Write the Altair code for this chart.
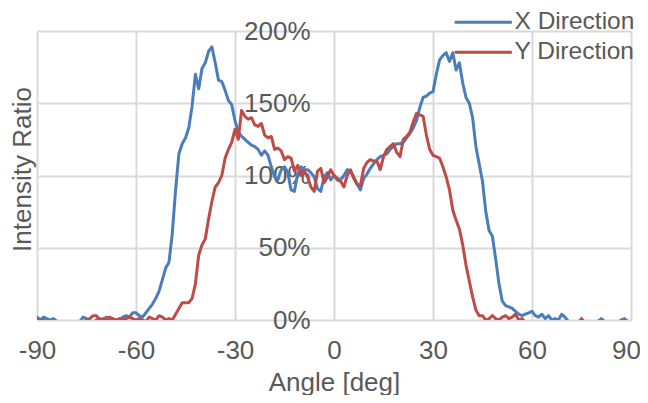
import altair as alt
import pandas as pd

angles = list(range(-90, 91))

x_direction = [
    2, 0, 2, 1, 0, 1, -1, -2, -2, -2,        # -90..-81
    -2, -2, -2, -1, 2, 1, -1, -2, 0, 1,      # -80..-71
    0, 2, 1, 0, 0, 0, 2, 3, 2, 5,            # -70..-61
    5, 3, 2, 5, 8, 11, 15, 20, 28, 36,       # -60..-51
    40, 60, 90, 115, 122, 126, 133, 148, 170, 160,  # -50..-41
    174, 178, 186, 189, 178, 166, 165, 159, 152, 149,  # -40..-31
    138, 130, 127, 125, 123, 121, 120, 118, 114, 117,  # -30..-21
    114, 106, 99, 97, 104, 106, 102, 90, 89, 101,      # -20..-11
    106, 104, 104, 102, 99, 91, 89, 99, 102, 97,       # -10..-1
    100,                                                # 0
    98, 97, 100, 104, 103, 99, 94, 90, 98, 101,        # 1..10
    105, 108, 111, 113, 114, 115, 118, 120, 122, 122,  # 11..20
    123, 126, 129, 133, 138, 147, 154, 155, 157, 158,  # 21..30
    170, 180, 183, 185, 179, 185, 173, 178, 164, 154,  # 31..40
    150, 140, 120, 108, 96, 75, 62, 58, 42, 25,        # 41..50
    13, 10, 9, 8, 6, 4, 3, 4, 5, 6,                    # 51..60
    3, 2, 4, 1, 3, 0, 1, 0, 4, 2,                      # 61..70
    -1, -2, -2, -2, -2, -2, -2, -2, -2, -1,            # 71..80
    1, -1, -2, -2, -2, -2, 0, 1, -1, -2,               # 81..90
]

y_direction = [
    1, -1, 0, -2, -2, -2, -2, -2, -2, -2,    # -90..-81
    -2, -2, -2, -2, -2, 0, 1, 3, 3, 0,       # -80..-71
    1, 0, 2, 1, 0, 1, 0, 1, 2, 1,            # -70..-61
    0, 1, 0, -1, 2, 1, 0, 3, 2, 0,           # -60..-51
    1, 0, 4, 8, 12, 12, 12, 15, 25, 45,      # -50..-41
    52, 56, 70, 82, 92, 95, 100, 112, 118, 123,        # -40..-31
    132, 125, 145, 141, 139, 140, 135, 134, 136, 128,  # -30..-21
    126, 127, 118, 119, 117, 111, 113, 112, 103, 107,  # -20..-11
    100, 103, 99, 92, 89, 103, 105, 95, 99, 104,       # -10..-1
    100,                                                # 0
    97, 96, 92, 100, 104, 98, 94, 93, 105, 109,        # 1..10
    111, 110, 110, 104, 113, 118, 120, 122, 116, 113,  # 11..20
    125, 127, 130, 137, 143, 142, 141, 128, 118, 114,  # 21..30
    113, 112, 106, 99, 90, 76, 69, 63, 52, 38,         # 31..40
    27, 16, 7, 3, 3, 0, 1, 3, 1, 0,                    # 41..50
    2, 3, 1, 2, 4, 0, 1, -2, -2, -2,                   # 51..60
    -2, -2, -2, -2, -2, -2, -2, -2, -2, -2,            # 61..70
    -2, -2, -2, -2, 1, -2, -2, -2, -2, -2,             # 71..80
    -2, -2, -2, -2, -2, -2, -2, -2, -2, -2,            # 81..90
]

series_names = ["X Direction", "Y Direction"]
series_colors = ["#4a7ebb", "#be4b48"]
x_ticks = [-90, -60, -30, 0, 30, 60, 90]
y_ticks = [0, 50, 100, 150, 200]

rows = []
for a, v in zip(angles, x_direction):
    rows.append({"angle": a, "value": v, "series": series_names[0]})
for a, v in zip(angles, y_direction):
    rows.append({"angle": a, "value": v, "series": series_names[1]})
df = pd.DataFrame(rows)

FONT = "Liberation Sans"
GRAY = "#595959"
GRID = "#d9d9d9"
FS = 26

chart = alt.Chart(df).mark_line(strokeWidth=3, clip=True, strokeCap="round",
                                strokeJoin="round").encode(
    x=alt.X("angle:Q",
            scale=alt.Scale(domain=[-90, 90], nice=False, zero=False),
            axis=alt.Axis(values=x_ticks, title="Angle [deg]", grid=True,
                          gridColor=GRID, gridWidth=2, domain=False, ticks=False,
                          labelFlush=False, labelPadding=17, labelFontSize=FS,
                          labelFont=FONT, labelColor=GRAY,
                          labelExpr="'' + datum.value",
                          labelOffset={"condition": {"test": "datum.value == 90", "value": -5},
                                       "value": 0},
                          titleFont=FONT, titleFontSize=FS, titleColor=GRAY,
                          titleFontWeight="normal", titlePadding=6)),
    y=alt.Y("value:Q",
            scale=alt.Scale(domain=[0, 200], nice=False),
            axis=alt.Axis(values=y_ticks, title="Intensity Ratio", grid=True,
                          gridColor=GRID, gridWidth=2, domain=False, ticks=False,
                          offset=-297, labelPadding=24, labelFontSize=FS,
                          labelFont=FONT, labelColor=GRAY,
                          labelExpr="datum.value + '%'",
                          titleFont=FONT, titleFontSize=FS, titleColor=GRAY,
                          titleFontWeight="normal", titleX=-312, titleY=138,
                          titleBaseline="middle", titleAngle=270)),
    color=alt.Color("series:N",
                    scale=alt.Scale(domain=series_names, range=series_colors),
                    legend=alt.Legend(title=None, orient="none", legendX=434,
                                      legendY=-21, symbolType="M-5.2,0H5.2",
                                      symbolSize=121, symbolStrokeWidth=3,
                                      labelFontSize=24.5, labelFont=FONT,
                                      labelColor=GRAY, labelOffset=19,
                                      rowPadding=5, padding=0)),
).properties(
    width=594, height=289,
    autosize=alt.AutoSizeParams(type="none"),
    padding={"left": 29, "top": 23, "right": 9, "bottom": 75},
).configure_view(stroke=None)

chart.save("out.html", embed_options={"renderer": "svg", "actions": False})
